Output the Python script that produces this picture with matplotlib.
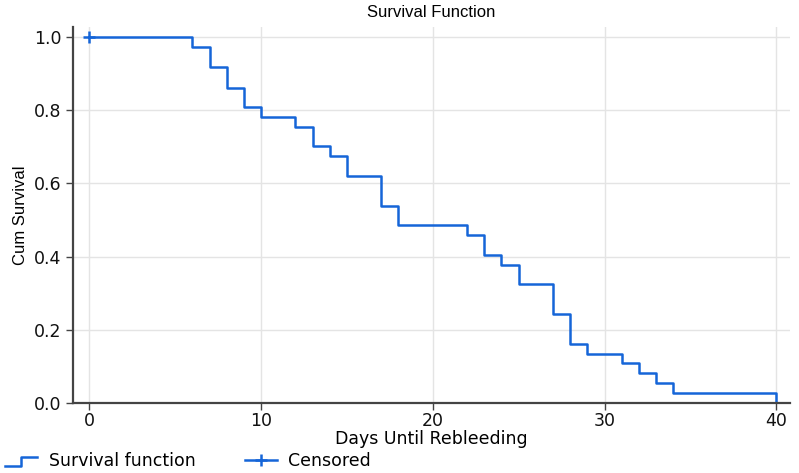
import matplotlib
matplotlib.use("Agg")
import matplotlib.pyplot as plt
from matplotlib.lines import Line2D
from matplotlib.legend_handler import HandlerBase

# Kaplan-Meier step values
days = [0, 6, 7, 8, 9, 10, 12, 13, 14, 15, 17, 18, 22, 23, 24, 25, 27, 28, 29, 31, 32, 33, 34, 40]
survival = [1.0, 0.972, 0.917, 0.861, 0.808, 0.780, 0.754, 0.702, 0.675, 0.620, 0.538, 0.486,
            0.459, 0.405, 0.378, 0.324, 0.243, 0.162, 0.135, 0.108, 0.081, 0.054, 0.027, 0.0]
censored_days = [0]
censored_surv = [1.0]

x_ticks = [0, 10, 20, 30, 40]
y_ticks = [0.0, 0.2, 0.4, 0.6, 0.8, 1.0]

blue = "#1565d8"
spine = "#444444"
wide = ["DejaVu Sans"]
plain = ["Liberation Sans", "DejaVu Sans"]


class StepHandler(HandlerBase):
    """Legend key drawn as a small upward step."""

    def create_artists(self, legend, orig_handle, xdescent, ydescent, width, height, fontsize, trans):
        x0, x1 = -xdescent, -xdescent + width
        xm = x0 + width * 0.5
        lo = -ydescent + height * 0.05
        hi = -ydescent + height * 0.75
        line = Line2D([x0, xm, xm, x1], [lo, lo, hi, hi], color=orig_handle.get_color(),
                      lw=orig_handle.get_linewidth(), transform=trans)
        return [line]


fig = plt.figure(figsize=(7.99, 4.73), dpi=100)
ax = fig.add_axes([0.0914, 0.148, 0.8973, 0.795])

step_line, = ax.step(days, survival, where="post", color=blue, lw=1.8)
cens, = ax.plot(censored_days, censored_surv, marker="+", ms=9, mew=1.8, color=blue, ls="none")

ax.set_xlim(-0.95, 40.8)
ax.set_ylim(0, 1.027)
ax.set_xticks(x_ticks)
ax.set_yticks(y_ticks)
ax.set_xticklabels([str(v) for v in x_ticks], family=wide)
ax.set_yticklabels([f"{v:.1f}" for v in y_ticks], family=wide)
ax.grid(True, color="#e4e4e4", lw=1)
ax.set_axisbelow(True)

for side in ("top", "right"):
    ax.spines[side].set_visible(False)
for side in ("left", "bottom"):
    ax.spines[side].set_color(spine)
    ax.spines[side].set_linewidth(1.6)
ax.tick_params(axis="both", colors=spine, labelcolor="#111111", labelsize=12.5, length=5, width=1)
ax.tick_params(axis="x", pad=1.5)

ax.set_title("Survival Function", fontsize=12, pad=7, family=plain)
ax.set_xlabel("Days Until Rebleeding", fontsize=12.5, labelpad=0, family=wide)
ax.set_ylabel("Cum Survival", fontsize=12, labelpad=4, family=plain)

cens_key = Line2D([0], [0], color=blue, lw=1.8, marker="+", ms=9, mew=1.8)
fig.legend([step_line, cens_key], ["Survival function", "Censored"], loc="lower left",
           bbox_to_anchor=(-0.011, -0.024), ncol=2, frameon=False,
           prop={"family": wide, "size": 12.5}, borderpad=0.3,
           handlelength=1.85, columnspacing=2.85, handletextpad=0.65,
           handler_map={step_line: StepHandler()})

fig.savefig("out.png", dpi=100)
